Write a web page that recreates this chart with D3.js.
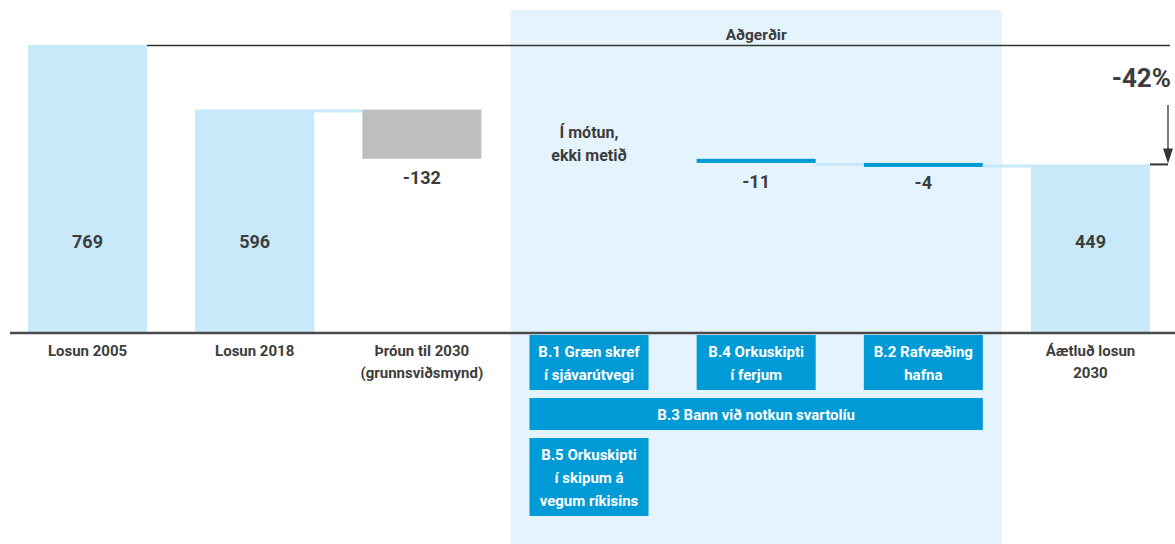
<!DOCTYPE html>
<html>
<head>
<meta charset="utf-8">
<script src="https://cdn.jsdelivr.net/npm/d3@7"></script>
<style>
  body { margin: 0; background: #fff; }
  svg text { font-family: Roboto, "Noto Sans", sans-serif; font-weight: 700; }
</style>
</head>
<body>
<svg id="chart" width="1175" height="544"></svg>
<script>
"use strict";

// waterfall steps (kt CO2-íg.)
const steps = ["s2005", "s2018", "trend", "pending", "b4", "b2", "s2030"]
const stepLabels = [
  ["Losun 2005"],
  ["Losun 2018"],
  ["Þróun til 2030", "(grunnsviðsmynd)"],
  [],
  [],
  [],
  ["Áætluð losun", "2030"]
]
const stepValues = [769, 596, -132, null, -11, -4, 449]
const stepKinds = ["total", "total", "trend", "pending", "action", "action", "total"]
const pendingLabel = ["Í mótun,", "ekki metið"]
const panelTitle = "Aðgerðir"

// action boxes under the panel: [first step, last step, text lines]
const actionRows = [
  [
    {from: "pending", to: "pending", lines: ["B.1 Græn skref", "í sjávarútvegi"]},
    {from: "b4", to: "b4", lines: ["B.4 Orkuskipti", "í ferjum"]},
    {from: "b2", to: "b2", lines: ["B.2 Rafvæðing", "hafna"]}
  ],
  [
    {from: "pending", to: "b2", lines: ["B.3 Bann við notkun svartolíu"]}
  ],
  [
    {from: "pending", to: "pending", lines: ["B.5 Orkuskipti", "í skipum á", "vegum ríkisins"]}
  ]
]

const colors = {
  total: "#c7e9f9",
  trend: "#bdbebf",
  action: "#009bd7",
  panel: "#e5f4fc",
  text: "#3d3d3d",
  line: "#333333"
}

const svg = d3.select("#chart")
const W = 1175, H = 544
const baseY = 332

const x = d3.scaleBand()
  .domain(steps)
  .range([28, 1150])
  .paddingInner(0.288)
  .paddingOuter(0)

const y = d3.scaleLinear()
  .domain([0, d3.max(stepValues)])
  .range([baseY, 45])

// running totals
let running = 0
const bars = steps.map((s, i) => {
  let v = stepValues[i], kind = stepKinds[i]
  let d = {step: s, kind: kind, value: v}
  if(kind == "total"){
    d.start = 0; d.end = v; d.level = v
    running = v
  } else if(kind == "pending"){
    d.start = running; d.end = running; d.level = running
  } else {
    d.start = running; d.end = running + v; d.level = running
    running = running + v
  }
  return d
})

// panel behind the measures
const panelPad = 19
const px0 = x("pending") - panelPad
const px1 = x("b2") + x.bandwidth() + panelPad
svg.append("rect")
  .attr("x", px0).attr("y", 10)
  .attr("width", px1 - px0).attr("height", H - 10)
  .attr("fill", colors.panel)

svg.append("text")
  .attr("x", (px0 + px1) / 2).attr("y", 40)
  .attr("text-anchor", "middle")
  .attr("font-size", 15.5)
  .attr("fill", colors.text)
  .text(panelTitle)

// bars
svg.selectAll(".bar").data(bars.filter(d => d.kind != "pending")).enter()
  .append("rect")
  .attr("class", "bar")
  .attr("x", d => x(d.step))
  .attr("width", x.bandwidth())
  .attr("y", d => y(Math.max(d.start, d.end)))
  .attr("height", d => Math.max(4, Math.abs(y(d.start) - y(d.end))))
  .attr("fill", d => colors[d.kind])

// connectors
let links = []
for(let i = 0; i < bars.length - 1; i++){
  let a = bars[i], b = bars[i+1]
  if(a.kind == "pending" || b.kind == "pending") continue
  let bStart = b.kind == "total" ? b.end : b.start
  if(a.end == bStart) links.push({a: a, b: b, v: a.end})
}
svg.selectAll(".link").data(links).enter()
  .append("line")
  .attr("class", "link")
  .attr("x1", d => x(d.a.step) + x.bandwidth())
  .attr("x2", d => x(d.b.step))
  .attr("y1", d => y(d.v) + 1.5)
  .attr("y2", d => y(d.v) + 1.5)
  .attr("stroke", colors.total)
  .attr("stroke-width", 3)

// reference line at 2005 level
const first = bars[0], last = bars[bars.length - 1]
svg.append("line")
  .attr("x1", x(first.step) + x.bandwidth()).attr("x2", 1170)
  .attr("y1", y(first.end) + 0.5).attr("y2", y(first.end) + 0.5)
  .attr("stroke", colors.line).attr("stroke-width", 1.5)

// baseline
svg.append("line")
  .attr("x1", 10).attr("x2", W)
  .attr("y1", baseY + 1).attr("y2", baseY + 1)
  .attr("stroke", "#4a4a4a").attr("stroke-width", 2.5)

// value labels
svg.selectAll(".val").data(bars.filter(d => d.kind != "pending")).enter()
  .append("text")
  .attr("class", "val")
  .attr("x", d => x(d.step) + x.bandwidth() / 2)
  .attr("y", d => d.kind == "total" ? baseY - 84 : y(d.end) + 25)
  .attr("text-anchor", "middle")
  .attr("font-size", 18)
  .attr("fill", colors.text)
  .text(d => d.value)

// pending label
const pend = bars.find(d => d.kind == "pending")
svg.append("text")
  .attr("text-anchor", "middle")
  .attr("font-size", 16)
  .attr("fill", colors.text)
  .selectAll("tspan").data(pendingLabel).enter()
  .append("tspan")
  .attr("x", x(pend.step) + x.bandwidth() / 2)
  .attr("y", (d, i) => y(pend.level) - 21 + i * 23)
  .text(d => d)

// category labels
const catG = svg.append("g")
catG.selectAll("text").data(steps).enter()
  .append("text")
  .attr("text-anchor", "middle")
  .attr("font-size", 15)
  .attr("fill", colors.text)
  .each(function(s, i){
    d3.select(this).selectAll("tspan").data(stepLabels[i]).enter()
      .append("tspan")
      .attr("x", x(s) + x.bandwidth() / 2)
      .attr("y", (d, j) => baseY + 24 + j * 22)
      .text(d => d)
  })

// change arrow on the right
const pct = (last.end - first.end) / first.end
const ax = 1168
svg.append("text")
  .attr("x", 1171).attr("y", 87)
  .attr("text-anchor", "end")
  .attr("font-size", 26)
  .attr("fill", colors.text)
  .text(d3.format(".0%")(pct).replace("−", "-"))
svg.append("line")
  .attr("x1", ax).attr("x2", ax)
  .attr("y1", 105).attr("y2", y(last.end) - 14)
  .attr("stroke", colors.line).attr("stroke-width", 1.3)
svg.append("path")
  .attr("d", d3.line()([[ax - 5, y(last.end) - 16], [ax + 5, y(last.end) - 16], [ax, y(last.end) - 1]]))
  .attr("fill", colors.line)
svg.append("line")
  .attr("x1", x(last.step) + x.bandwidth()).attr("x2", ax)
  .attr("y1", y(last.end)).attr("y2", y(last.end))
  .attr("stroke", colors.line).attr("stroke-width", 2)

// action boxes
const lineH = 23, boxGap = 8
let rowTop = baseY + 3
actionRows.forEach(row => {
  let h = d3.max(row, d => d.lines.length) * lineH + 9
  row.forEach(d => {
    let bx = x(d.from), bw = x(d.to) + x.bandwidth() - x(d.from)
    let bh = d.lines.length * lineH + 9
    let g = svg.append("g").attr("transform", "translate(" + bx + "," + rowTop + ")")
    g.append("rect")
      .attr("width", bw).attr("height", bh)
      .attr("fill", colors.action)
    g.append("text")
      .attr("text-anchor", "middle")
      .attr("font-size", 15)
      .attr("fill", "#fff")
      .selectAll("tspan").data(d.lines).enter()
      .append("tspan")
      .attr("x", bw / 2)
      .attr("y", (t, j) => 22 + j * lineH)
      .text(t => t)
  })
  rowTop += h + boxGap
})
</script>
</body>
</html>
